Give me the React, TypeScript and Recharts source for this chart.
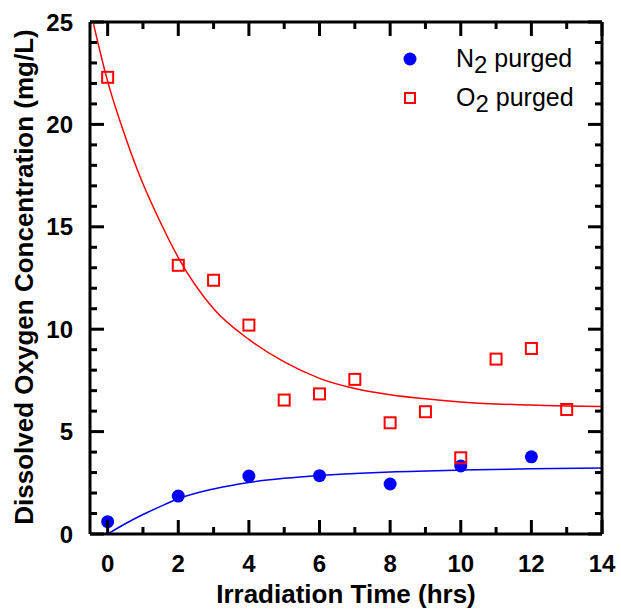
import React from "react";
import {
  ComposedChart,
  Line,
  Scatter,
  XAxis,
  YAxis,
  Legend,
} from "recharts";

// measured points
const N2_TIME = [0, 2, 4, 6, 8, 10, 12];
const N2_CONC = [0.6, 1.85, 2.83, 2.85, 2.44, 3.32, 3.77];

const O2_TIME = [0, 2, 3, 4, 5, 6, 7, 8, 9, 10, 11, 12, 13];
const O2_CONC = [22.3, 13.12, 12.39, 10.2, 6.54, 6.84, 7.55, 5.43, 5.97, 3.72, 8.54, 9.06, 6.08];

// fitted curves
const N2_FIT_TIME = [0, 0.5, 1, 1.5, 2, 3, 4, 5, 6, 7, 8, 10, 12, 14];
const N2_FIT_CONC = [0, 0.5, 0.95, 1.35, 1.72, 2.2, 2.52, 2.72, 2.86, 2.96, 3.03, 3.12, 3.18, 3.22];

const O2_FIT_TIME = [-0.4, 0, 0.5, 1, 1.5, 2, 3, 4, 5, 6, 7, 8, 9, 10, 11, 12, 13, 14];
const O2_FIT_CONC = [24.9, 22.1, 19.4, 17.1, 15.2, 13.5, 11.0, 9.5, 8.4, 7.6, 7.1, 6.8, 6.6, 6.45, 6.35, 6.3, 6.25, 6.22];

const X_TICKS = [0, 1, 2, 3, 4, 5, 6, 7, 8, 9, 10, 11, 12, 13, 14];
const Y_TICKS = [0, 1, 2, 3, 4, 5, 6, 7, 8, 9, 10, 11, 12, 13, 14, 15, 16, 17, 18, 19, 20, 21, 22, 23, 24, 25];

const LEGEND_ITEMS = [
  { sym: "N", sub: "2", rest: " purged", kind: "circle" },
  { sym: "O", sub: "2", rest: " purged", kind: "square" },
];

const FONT = "'Liberation Sans', Arial, Helvetica, sans-serif";
const BLUE = "#0000ff";
const RED = "#ff0000";

const pairs = (xs: number[], ys: number[]) => xs.map((x, i) => ({ x, y: ys[i] }));

const n2Data = pairs(N2_TIME, N2_CONC);
const o2Data = pairs(O2_TIME, O2_CONC);
const n2Fit = pairs(N2_FIT_TIME, N2_FIT_CONC);
const o2Fit = pairs(O2_FIT_TIME, O2_FIT_CONC);

const MAJOR_LEN = 14;
const MINOR_LEN = 7;
const TICK_W = 3;

// ticks point into the plot, drawn as filled rects
function BottomTick(props: any) {
  const { x, y, payload } = props;
  const major = payload.value % 2 === 0;
  const len = major ? MAJOR_LEN : MINOR_LEN;
  return (
    <g>
      <rect x={x - TICK_W / 2} y={y - len} width={TICK_W} height={len} fill="#000" />
      {major && (
        <text x={x} y={y + 37.5} textAnchor="middle" fontFamily={FONT} fontWeight="bold" fontSize={24} fill="#000">
          {payload.value}
        </text>
      )}
    </g>
  );
}

function TopTick(props: any) {
  const { x, y, payload } = props;
  const len = payload.value % 2 === 0 ? MAJOR_LEN : MINOR_LEN;
  return <rect x={x - TICK_W / 2} y={y} width={TICK_W} height={len} fill="#000" />;
}

function LeftTick(props: any) {
  const { x, y, payload } = props;
  const major = payload.value % 5 === 0;
  const len = major ? MAJOR_LEN : MINOR_LEN;
  return (
    <g>
      <rect x={x} y={y - TICK_W / 2} width={len} height={TICK_W} fill="#000" />
      {major && (
        <text x={x - 17} y={y + 8.5} textAnchor="end" fontFamily={FONT} fontWeight="bold" fontSize={24} fill="#000">
          {payload.value}
        </text>
      )}
    </g>
  );
}

function RightTick(props: any) {
  const { x, y, payload } = props;
  const len = payload.value % 5 === 0 ? MAJOR_LEN : MINOR_LEN;
  return <rect x={x - len} y={y - TICK_W / 2} width={len} height={TICK_W} fill="#000" />;
}

function YTitle({ viewBox }: any) {
  const cy = viewBox.y + viewBox.height / 2 - 1;
  return (
    <text
      x={33}
      y={cy}
      transform={`rotate(-90, 33, ${cy})`}
      textAnchor="middle"
      fontFamily={FONT}
      fontWeight="bold"
      fontSize={26}
      fill="#000"
    >
      Dissolved Oxygen Concentration (mg/L)
    </text>
  );
}

function XTitle({ viewBox }: any) {
  const cx = viewBox.x + viewBox.width / 2;
  return (
    <text x={cx} y={viewBox.y + 69} textAnchor="middle" fontFamily={FONT} fontWeight="bold" fontSize={26} fill="#000">
      Irradiation Time (hrs)
    </text>
  );
}

function BlueDot({ cx, cy }: any) {
  return <circle cx={cx} cy={cy} r={6.5} fill={BLUE} />;
}

function RedSquare({ cx, cy }: any) {
  return <rect x={cx - 5.5} y={cy - 5.5} width={11} height={11} fill="none" stroke={RED} strokeWidth={2} />;
}

function LegendBox() {
  return (
    <svg width={215} height={80} style={{ display: "block" }}>
      {LEGEND_ITEMS.map((it, i) => {
        const cy = 19 + i * 39;
        return (
          <g key={it.sym}>
            {it.kind === "circle" ? (
              <circle cx={15} cy={cy} r={6.5} fill={BLUE} />
            ) : (
              <rect x={10} y={cy - 5} width={10} height={10} fill="none" stroke={RED} strokeWidth={2} />
            )}
            <text x={61} y={cy + 8} fontFamily={FONT} fontSize={25} fill="#000">
              {it.sym}
              <tspan dy={6} fontSize={24}>{it.sub}</tspan>
              <tspan dy={-6}>{it.rest}</tspan>
            </text>
          </g>
        );
      })}
    </svg>
  );
}

export default function App() {
  return (
    <div style={{ position: "absolute", left: 0, top: 0, width: 621, height: 610, background: "#fff" }}>
      <ComposedChart width={621} height={610} margin={{ top: 21, right: 18, bottom: 0, left: 0 }}>
        <XAxis
          type="number"
          dataKey="x"
          domain={[-0.5, 14]}
          ticks={X_TICKS}
          interval={0}
          allowDataOverflow
          height={76}
          tickSize={0}
          tickMargin={0}
          tickLine={false}
          axisLine={{ stroke: "#000", strokeWidth: 3 }}
          tick={<BottomTick />}
          label={<XTitle />}
        />
        <XAxis
          xAxisId="top"
          orientation="top"
          type="number"
          dataKey="x"
          domain={[-0.5, 14]}
          ticks={X_TICKS}
          interval={0}
          allowDataOverflow
          height={1}
          tickSize={0}
          tickMargin={0}
          tickLine={false}
          axisLine={{ stroke: "#000", strokeWidth: 3 }}
          tick={<TopTick />}
        />
        <YAxis
          type="number"
          domain={[0, 25]}
          ticks={Y_TICKS}
          interval={0}
          allowDataOverflow
          width={90}
          tickSize={0}
          tickMargin={0}
          tickLine={false}
          axisLine={{ stroke: "#000", strokeWidth: 3 }}
          tick={<LeftTick />}
          label={<YTitle />}
        />
        <YAxis
          yAxisId="right"
          orientation="right"
          type="number"
          domain={[0, 25]}
          ticks={Y_TICKS}
          interval={0}
          allowDataOverflow
          width={1}
          tickSize={0}
          tickMargin={0}
          tickLine={false}
          axisLine={{ stroke: "#000", strokeWidth: 3 }}
          tick={<RightTick />}
        />
        <Line
          data={o2Fit}
          dataKey="y"
          type="monotone"
          stroke={RED}
          strokeWidth={1.5}
          dot={false}
          isAnimationActive={false}
        />
        <Line
          data={n2Fit}
          dataKey="y"
          type="monotone"
          stroke={BLUE}
          strokeWidth={1.5}
          dot={false}
          isAnimationActive={false}
        />
        <Scatter data={n2Data} dataKey="y" shape={<BlueDot />} isAnimationActive={false} />
        <Scatter data={o2Data} dataKey="y" shape={<RedSquare />} isAnimationActive={false} />
        <Legend
          layout="vertical"
          align="center"
          verticalAlign="middle"
          content={<LegendBox />}
          wrapperStyle={{ position: "absolute", left: 395, top: 40, width: 215 }}
        />
      </ComposedChart>
    </div>
  );
}
